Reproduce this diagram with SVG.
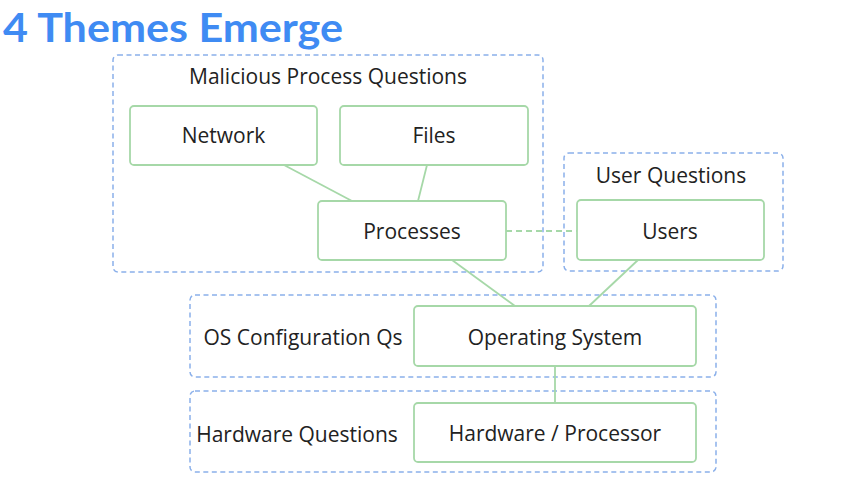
<svg xmlns="http://www.w3.org/2000/svg" width="860" height="481" viewBox="0 0 860 481">
<style>
.grp{fill:none;stroke:#8bb0ea;stroke-width:1.5;stroke-dasharray:5 3.5}
.node{fill:#fff;stroke:#a6d8a8;stroke-width:1.8}
.t{font-family:"Open Sans","Liberation Sans",sans-serif;font-size:21px;fill:#222;text-anchor:middle}
.c{stroke:#a6d8a8;stroke-width:1.8;fill:none}
</style>
<rect width="860" height="481" fill="#fff"/>
<text x="3" y="41.5" font-family="Lato,'Open Sans','Liberation Sans',sans-serif" font-weight="bold" font-size="41" fill="#3f8bf3" textLength="340" lengthAdjust="spacingAndGlyphs">4 Themes Emerge</text>
<g id="group-malicious">
<rect class="grp" x="113" y="55" width="430" height="217" rx="5"/>
<text class="t" x="328" y="84">Malicious Process Questions</text>
</g>
<g id="group-user">
<rect class="grp" x="564" y="153" width="219" height="118" rx="5"/>
<text class="t" x="671" y="183">User Questions</text>
</g>
<g id="group-os">
<rect class="grp" x="190" y="295" width="526" height="82" rx="5"/>
<text class="t" x="303" y="345">OS Configuration Qs</text>
</g>
<g id="group-hw">
<rect class="grp" x="190" y="391" width="526" height="81" rx="5"/>
<text class="t" x="297" y="442">Hardware Questions</text>
</g>
<g id="connectors">
<line class="c" x1="284" y1="165" x2="352" y2="201"/>
<line class="c" x1="427" y1="165" x2="418" y2="201"/>
<line class="c" x1="506" y1="231" x2="577" y2="231" stroke-dasharray="6 4"/>
<line class="c" x1="452" y1="260" x2="515" y2="306"/>
<line class="c" x1="638" y1="260" x2="589" y2="306"/>
<line class="c" x1="555" y1="366" x2="555" y2="403"/>
</g>
<g id="node-network">
<rect class="node" x="130" y="106" width="187" height="59" rx="4"/>
<text class="t" x="223.5" y="143">Network</text>
</g>
<g id="node-files">
<rect class="node" x="340" y="106" width="188" height="59" rx="4"/>
<text class="t" x="434" y="143">Files</text>
</g>
<g id="node-processes">
<rect class="node" x="318" y="201" width="188" height="59" rx="4"/>
<text class="t" x="412" y="239">Processes</text>
</g>
<g id="node-users">
<rect class="node" x="577" y="200" width="187" height="60" rx="4"/>
<text class="t" x="670" y="239">Users</text>
</g>
<g id="node-os">
<rect class="node" x="414" y="306" width="282" height="60" rx="4"/>
<text class="t" x="555" y="345">Operating System</text>
</g>
<g id="node-hw">
<rect class="node" x="414" y="403" width="282" height="59" rx="4"/>
<text class="t" x="555" y="441">Hardware / Processor</text>
</g>
</svg>
